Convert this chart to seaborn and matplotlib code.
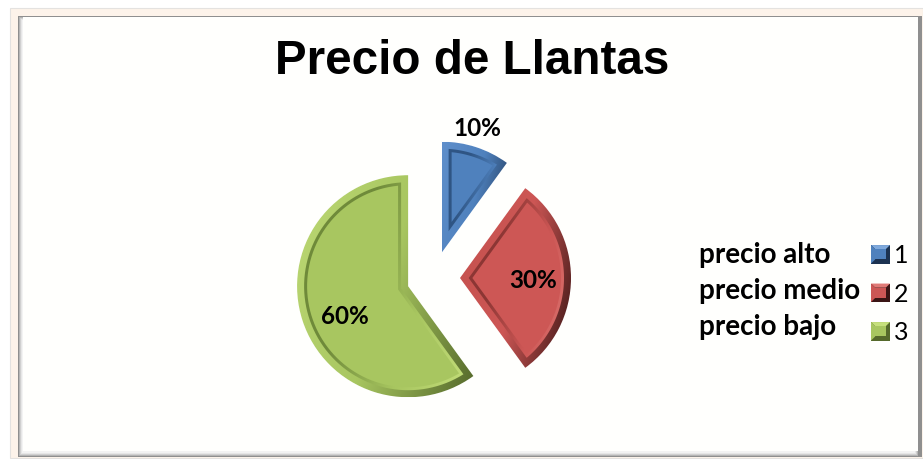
import matplotlib
matplotlib.use("Agg")
import matplotlib.pyplot as plt
import numpy as np
import seaborn as sns
from matplotlib.colors import LinearSegmentedColormap
from matplotlib.legend_handler import HandlerPatch
from matplotlib.patches import Patch, Polygon, Rectangle

TITLE = "Precio de Llantas"
shares = [10, 30, 60]
legend_keys = ["1", "2", "3"]
price_names = ["precio alto", "precio medio", "precio bajo"]
face_colors = ["#4F81BD", "#CD5755", "#A8C660"]
edge_colors = ["#5F8FCB", "#C4504D", "#BCD874"]
light_colors = ["#7FA9DC", "#E07A76", "#C6E07C"]
soft_colors = ["#2F5584", "#8C3634", "#6F8A3A"]
dark_colors = ["#1C3250", "#3A1514", "#55692B"]

W, H = 923, 459


def inset_polygon(wedge, d):
    # same wedge moved inward by d, mitred at the apex
    t1, t2 = np.radians(wedge.theta1), np.radians(wedge.theta2)
    half = (t2 - t1) / 2
    mid = (t1 + t2) / 2
    cx, cy = wedge.center
    r = wedge.r - d
    delta = np.arcsin(d / r)
    angles = np.linspace(t1 + delta, t2 - delta, 80)
    arc = np.column_stack([cx + r * np.cos(angles), cy + r * np.sin(angles)])
    shift = d / np.sin(half)
    apex = [cx + shift * np.cos(mid), cy + shift * np.sin(mid)]
    return np.vstack([apex, arc])


def gradient_fill(ax, wedge, clip, colors, zorder):
    cmap = LinearSegmentedColormap.from_list("band", colors)
    xx, yy = np.meshgrid(np.linspace(0, 1, 120), np.linspace(0, 1, 120))
    box = wedge.get_path().get_extents()
    img = ax.imshow(
        0.72 * xx + 0.28 * (1 - yy),
        extent=(box.x0, box.x1, box.y0, box.y1),
        origin="lower",
        cmap=cmap,
        aspect="auto",
        zorder=zorder,
        interpolation="bilinear",
    )
    img.set_clip_path(clip)


class BevelHandler(HandlerPatch):
    def create_artists(self, legend, orig, xd, yd, width, height, fontsize, trans):
        x0, y0 = -xd, -yd
        x1, y1 = x0 + width, y0 + height
        ix0, iy0 = x0 + width * 0.22, y0 + height * 0.22
        ix1, iy1 = x1 - width * 0.22, y1 - height * 0.22
        base = orig.get_facecolor()
        shapes = [
            ([(x0, y0), (x1, y0), (x1, y1), (x0, y1)], orig.dark),
            ([(x0, y1), (x1, y1), (ix1, iy1), (ix0, iy1)], orig.light),
            ([(x0, y0), (x0, y1), (ix0, iy1), (ix0, iy0)], base),
            ([(ix0, iy0), (ix1, iy0), (ix1, iy1), (ix0, iy1)], base),
        ]
        return [Polygon(p, closed=True, facecolor=c, edgecolor="none", transform=trans) for p, c in shapes]


def draw_frame(ax):
    ax.add_patch(Rectangle((10, 1), W - 10, H - 9, facecolor="#FDF3EA", edgecolor="#E4E2E0", lw=0.8, zorder=0))
    ax.add_patch(Rectangle((18, 2), W - 19, H - 18, facecolor="#8F8F8F", edgecolor="none", zorder=0.1))
    for i, shade in enumerate(["#B5B5B5", "#D0D0D0", "#E6E6E6", "#F3F3F3"]):
        ax.add_patch(Rectangle((19 + i, 3 + i), W - 24 - 2 * i, H - 20 - 2 * i, facecolor=shade, edgecolor="none", zorder=0.2))
    ax.add_patch(Rectangle((23, 8), W - 28, H - 25, facecolor="#FFFFFD", edgecolor="none", zorder=0.3))


def main():
    sns.set_theme(style="white")
    plt.rcParams["font.family"] = ["Lato", "DejaVu Sans"]

    fig = plt.figure(figsize=(W / 100, H / 100), dpi=100, facecolor="white")
    ax = fig.add_axes([0, 0, 1, 1])
    draw_frame(ax)

    palette = sns.color_palette(face_colors)
    wedges, _, pct_texts = ax.pie(
        shares,
        explode=[26.6, 26.6, 26.6],
        center=(433.4, H - 278),
        radius=111,
        startangle=90,
        counterclock=False,
        colors=palette,
        autopct="%d%%",
        textprops={"fontsize": 17.5, "fontweight": "bold", "color": "black", "zorder": 6},
    )

    for wedge, face, edge, light, soft, dark in zip(wedges, face_colors, edge_colors, light_colors, soft_colors, dark_colors):
        gradient_fill(ax, wedge, wedge, [edge, face, dark], 2)
        ring = Polygon(inset_polygon(wedge, 7), closed=True, facecolor="none", edgecolor="none", zorder=3)
        ax.add_patch(ring)
        gradient_fill(ax, wedge, ring, [soft, soft, face, light], 3)
        ax.add_patch(Polygon(inset_polygon(wedge, 10), closed=True, facecolor=face, edgecolor="none", zorder=4))

    for text, pos in zip(pct_texts, [(477, 129), (533, 281), (345, 317)]):
        text.set_position((pos[0], H - pos[1]))

    ax.text(472, H - 61, TITLE, ha="center", va="center", fontsize=34.3, fontweight="bold",
            family="Liberation Sans", color="black")

    for name, py in zip(price_names, [255, 291, 327]):
        ax.text(699, H - py, name, ha="left", va="center", fontsize=20, fontweight="bold", color="black")

    handles = []
    for key, face, light, dark in zip(legend_keys, face_colors, light_colors, dark_colors):
        handle = Patch(facecolor=face, label=key)
        handle.light = light
        handle.dark = dark
        handles.append(handle)
    ax.legend(
        handles=handles,
        loc="upper left",
        bbox_to_anchor=(871 / W, 1 - 244 / H),
        frameon=False,
        fontsize=18,
        labelcolor="black",
        handler_map={Patch: BevelHandler()},
        handlelength=0.76,
        handleheight=0.76,
        handletextpad=0.15,
        labelspacing=0.62,
        borderpad=0,
        borderaxespad=0,
    )

    ax.set_xlim(0, W)
    ax.set_ylim(0, H)
    ax.set_aspect("auto")
    ax.axis("off")
    fig.savefig("out.png", dpi=100, facecolor="white")


if __name__ == "__main__":
    main()
